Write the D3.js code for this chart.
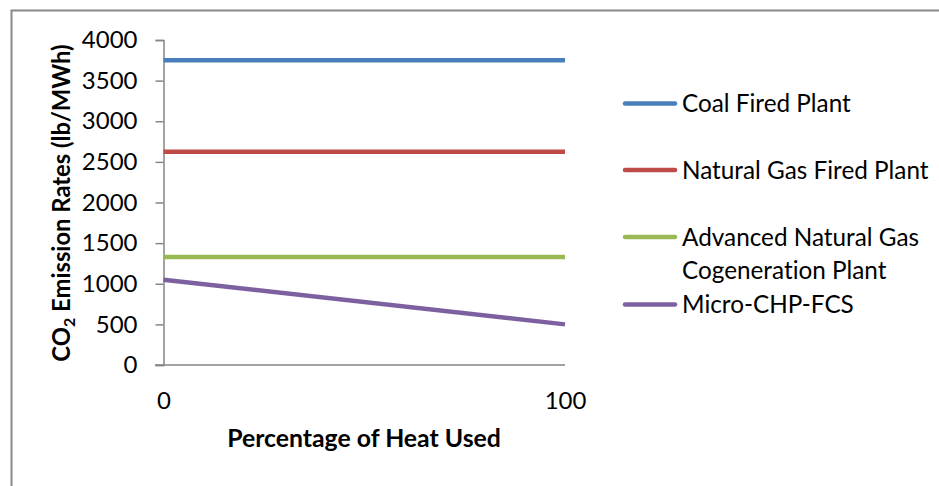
<!DOCTYPE html>
<html>
<head>
<meta charset="utf-8">
<script src="https://cdn.jsdelivr.net/npm/d3@7"></script>
<style>
  body { margin: 0; background: #fff; }
  text { font-family: Lato, "Liberation Sans", Arial, sans-serif; fill: #000; font-variant-ligatures: none; font-feature-settings: "liga" 0, "dlig" 0; }
</style>
</head>
<body>
<div id="container"></div>
<script>
/* CONSTANTS AND GLOBALS */
const width = 939;
const height = 486;
const fontFamily = "Lato, Liberation Sans, Arial, sans-serif";

// chart data
const xValues = [0, 100];
const xTicks = [0, 100];
const yTicks = [0, 500, 1000, 1500, 2000, 2500, 3000, 3500, 4000];
const seriesNames = ["Coal Fired Plant", "Natural Gas Fired Plant", "Advanced Natural Gas Cogeneration Plant", "Micro-CHP-FCS"];
const coal = [3750, 3750];
const naturalGas = [2625, 2625];
const advancedGas = [1330, 1330];
const microChp = [1050, 500];
const colors = ["#4a7ebb", "#be4b48", "#98b954", "#7d60a0"];

const series = [coal, naturalGas, advancedGas, microChp].map((vals, i) => ({
  name: seriesNames[i],
  color: colors[i],
  points: vals.map((v, j) => ({ x: xValues[j], y: v }))
}));

const svg = d3.select("#container")
  .append("svg")
  .attr("width", width)
  .attr("height", height);

// outer chart frame (runs off the right and bottom edges)
svg.append("rect")
  .attr("x", 11.5)
  .attr("y", 10.5)
  .attr("width", 1000)
  .attr("height", 600)
  .attr("fill", "#fff")
  .attr("stroke", "#888")
  .attr("stroke-width", 2);

const xScale = d3.scaleLinear().domain([0, 100]).range([163.5, 565]);
const yScale = d3.scaleLinear().domain([0, 4000]).range([365, 40]);

// y axis
const yAxis = d3.axisLeft(yScale)
  .tickValues(yTicks)
  .tickSize(8)
  .tickPadding(18)
  .tickFormat(d3.format("d"));

const yAxisGroup = svg.append("g")
  .attr("transform", "translate(163.5,0)")
  .call(yAxis);

yAxisGroup.select(".domain").attr("stroke", "#868686").attr("stroke-width", 1.5);
yAxisGroup.selectAll(".tick line").attr("stroke", "#868686").attr("stroke-width", 1.5);
yAxisGroup.selectAll(".tick text")
  .style("font-family", fontFamily)
  .style("font-size", "24px")
  .attr("fill", "#000");

// x axis
const xAxis = d3.axisBottom(xScale)
  .tickValues(xTicks)
  .tickSize(0)
  .tickPadding(27)
  .tickFormat(d3.format("d"));

const xAxisGroup = svg.append("g")
  .attr("transform", "translate(0,365)")
  .call(xAxis);

xAxisGroup.select(".domain").remove();
xAxisGroup.append("line")
  .attr("x1", 155).attr("x2", 565)
  .attr("stroke", "#868686")
  .attr("stroke-width", 1.5);
xAxisGroup.selectAll(".tick text")
  .style("font-family", fontFamily)
  .style("font-size", "24px")
  .attr("fill", "#000");

// axis titles
const yTitle = svg.append("text")
  .attr("transform", "translate(70,203) rotate(-90)")
  .attr("text-anchor", "middle")
  .style("font-size", "23.8px")
  .style("font-weight", "bold");
yTitle.append("tspan").text("CO");
yTitle.append("tspan").attr("dy", 5).style("font-size", "16px").text("2");
yTitle.append("tspan").attr("dy", -5).text(" Emission Rates (lb/MWh)");

svg.append("text")
  .attr("x", 364)
  .attr("y", 447)
  .attr("text-anchor", "middle")
  .style("font-size", "24.8px")
  .style("font-weight", "bold")
  .text("Percentage of Heat Used");

// lines
const line = d3.line()
  .x(d => xScale(d.x))
  .y(d => yScale(d.y));

svg.selectAll("path.series")
  .data(series)
  .join("path")
  .attr("class", "series")
  .attr("d", d => line(d.points))
  .attr("fill", "none")
  .attr("stroke", d => d.color)
  .attr("stroke-width", 4.5);

// legend
const legendRows = [
  { lines: ["Coal Fired Plant"], y: 103.5 },
  { lines: ["Natural Gas Fired Plant"], y: 170 },
  { lines: ["Advanced Natural Gas", "Cogeneration Plant"], y: 237 },
  { lines: ["Micro-CHP-FCS"], y: 304.5 }
];

const legend = svg.selectAll("g.legend")
  .data(series)
  .join("g")
  .attr("class", "legend")
  .attr("transform", (d, i) => `translate(0,${legendRows[i].y})`);

legend.append("line")
  .attr("x1", 625).attr("x2", 675)
  .attr("stroke", d => d.color)
  .attr("stroke-width", 4.5)
  .attr("stroke-linecap", "round");

legend.each(function(d, i) {
  const t = d3.select(this).append("text")
    .attr("x", 682)
    .attr("y", 0)
    .style("font-size", "24.3px");
  legendRows[i].lines.forEach((s, k) => {
    t.append("tspan")
      .attr("x", 682)
      .attr("dy", k === 0 ? "0.35em" : "33.5")
      .text(s);
  });
});
</script>
</body>
</html>
